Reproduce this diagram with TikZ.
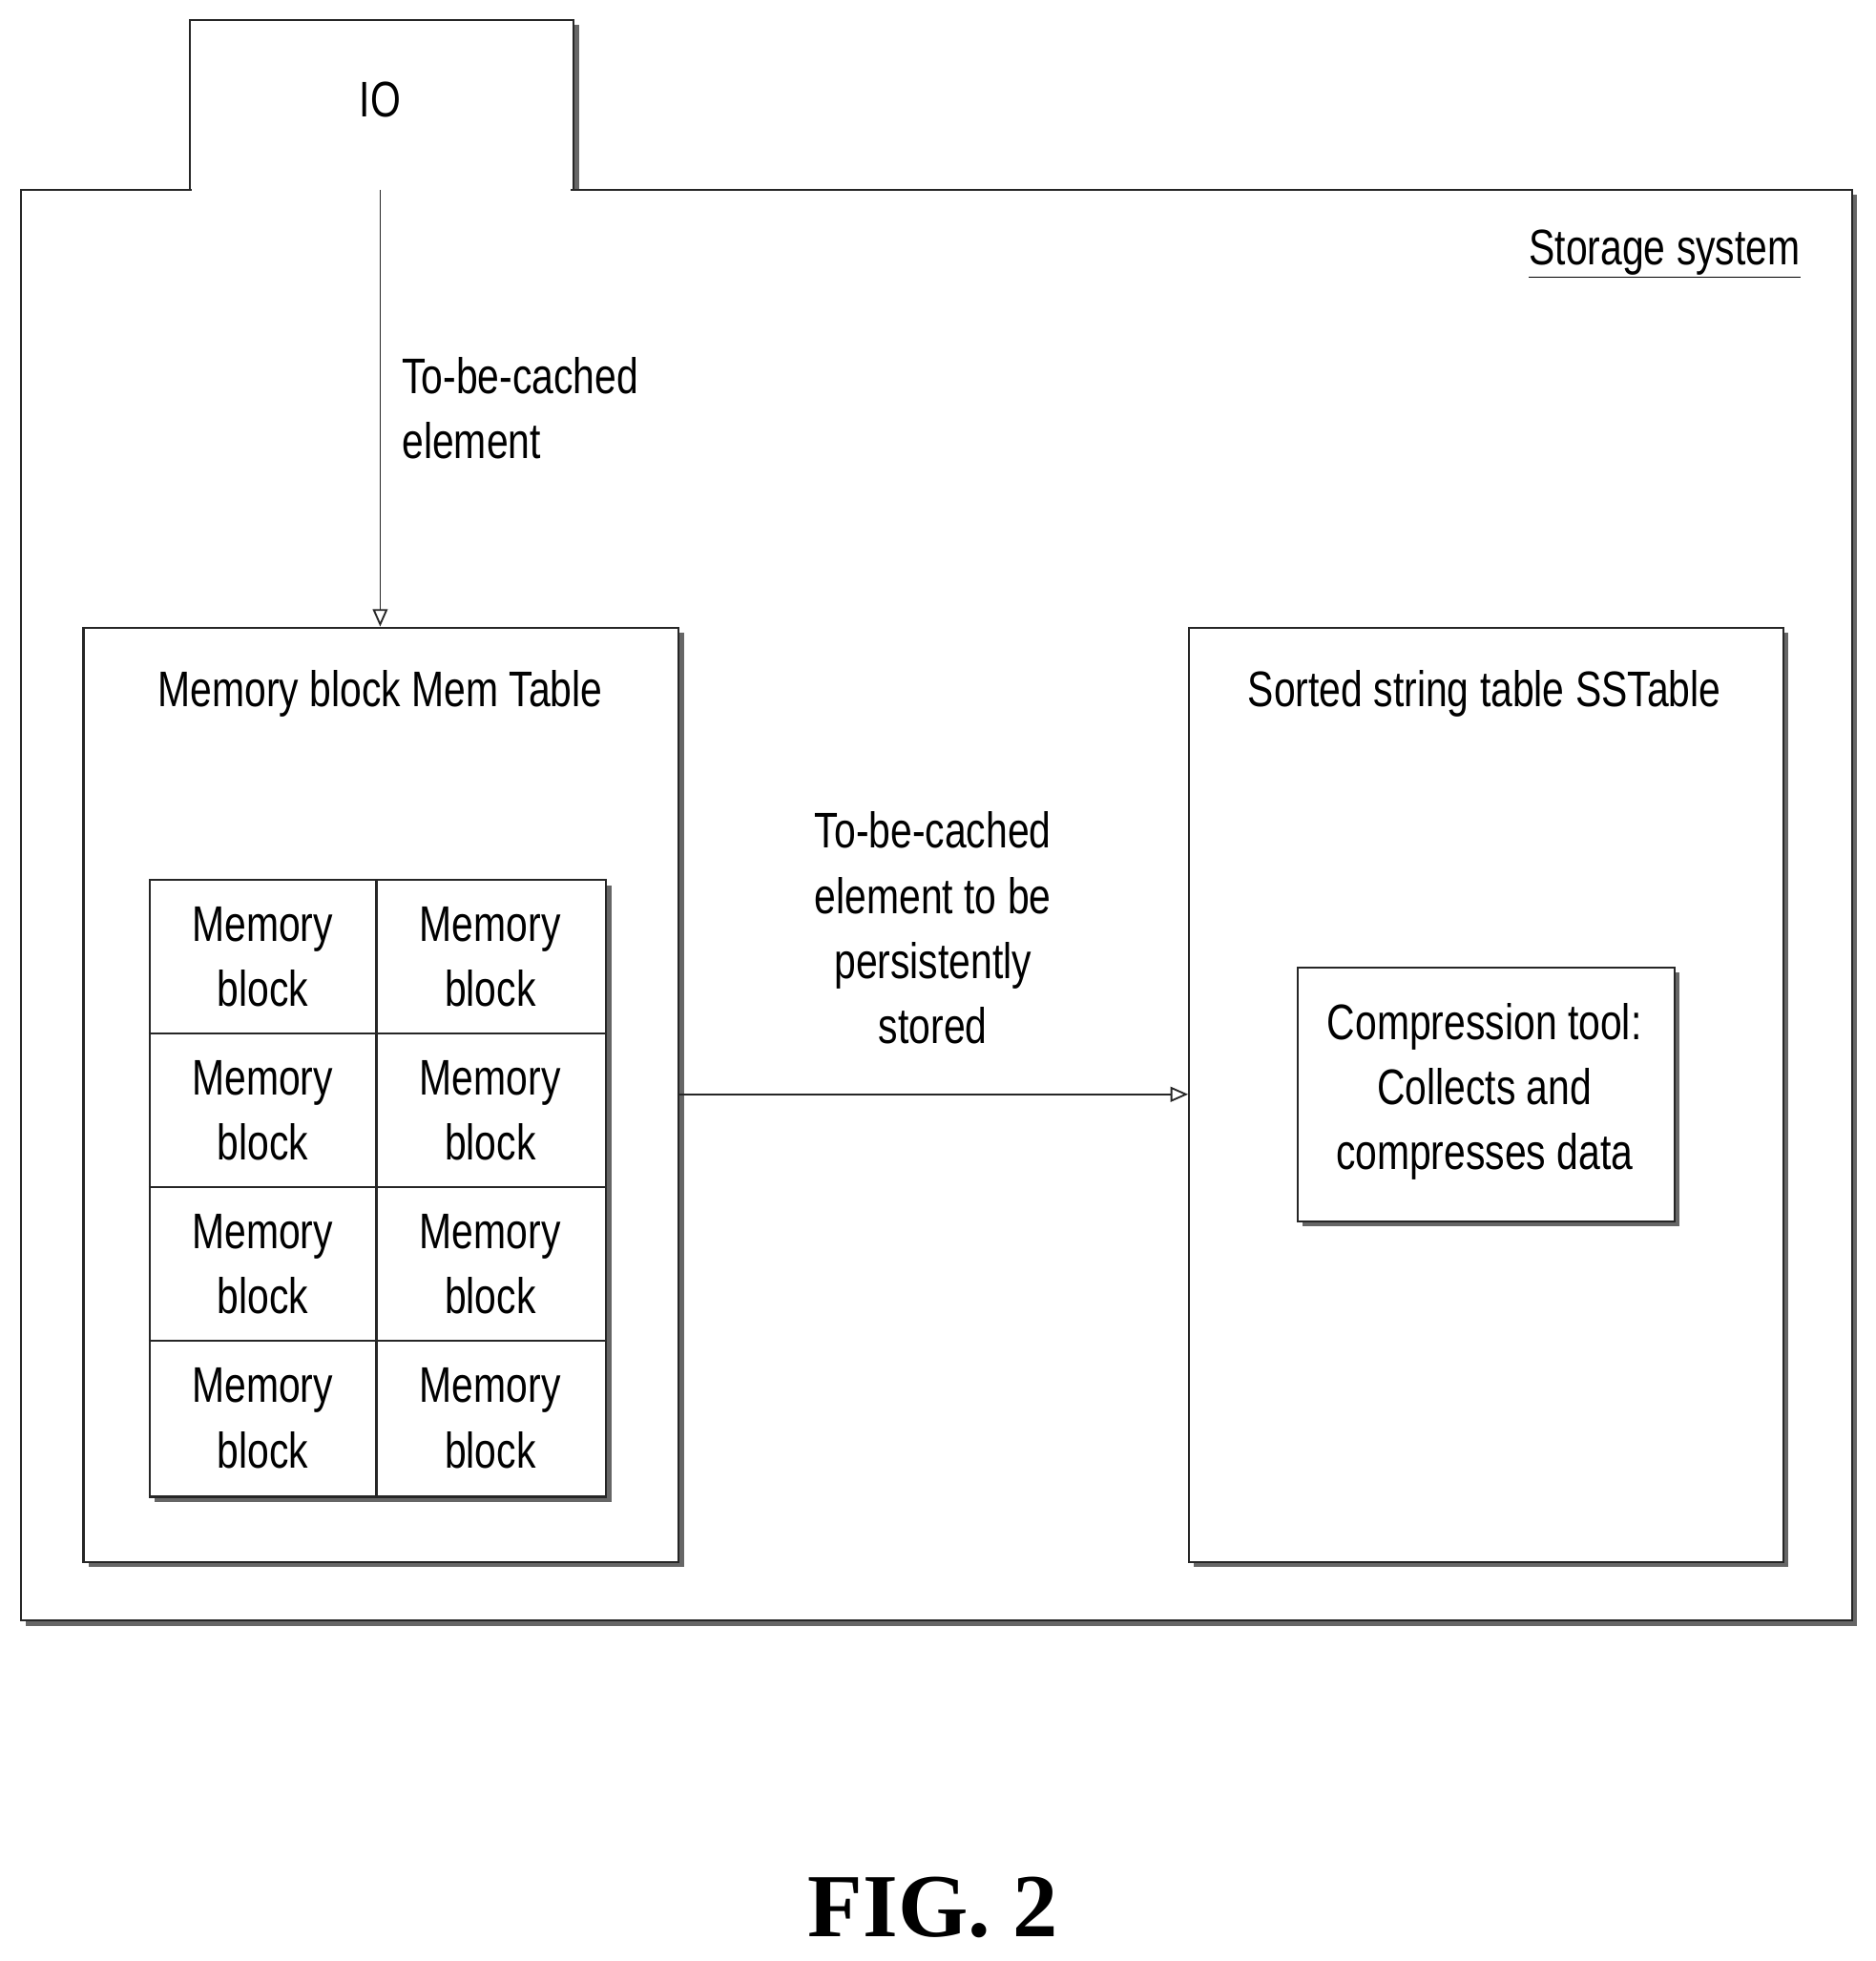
\documentclass[tikz,border=0pt]{standalone}
\usepackage{fontspec}
\setmainfont{Liberation Sans}[FakeStretch=0.78]
\newfontfamily\figfont{Liberation Serif}
\usetikzlibrary{shadows,arrows.meta}
\begin{document}
\begin{tikzpicture}[x=1pt,y=-1pt,
  box/.style={draw=black!85,line width=1.6pt,fill=white,drop shadow={shadow xshift=4pt,shadow yshift=-4pt,fill=black!60,opacity=1}},
  txt/.style={font=\fontsize{40}{52}\selectfont,align=center},
  arr/.style={draw=black!85,line width=1.4pt,-{Triangle[open,length=14pt,width=12pt]}}]
\useasboundingbox (0,0) rectangle (1500,1568);
\node[box,minimum width=307pt,minimum height=150pt,anchor=north west,inner sep=0pt] (io) at (151,15) {};
\node[box,minimum width=1464pt,minimum height=1144pt,anchor=north west,inner sep=0pt] (st) at (16,151) {};
\draw[white,line width=3pt] (153,151) -- (456,151);
\node[txt] (iot) at (304,80) {IO};
\node[txt,anchor=east] (stl) at (1443,203) {\underline{Storage system}};
\node[box,minimum width=476pt,minimum height=747pt,anchor=north west,inner sep=0pt] (mt) at (66,501) {};
\node[box,minimum width=475pt,minimum height=747pt,anchor=north west,inner sep=0pt] (ss) at (950,501) {};
\node[txt] (mtt) at (304,555) {Memory block Mem Table};
\node[txt] (sst) at (1187,555) {Sorted string table SSTable};
\node[box,minimum width=365pt,minimum height=493pt,anchor=north west,inner sep=0pt] (grid) at (119,703) {};
\foreach \r in {0,1,2,3}{
  \foreach \c/\x in {0/210,1/392}{
    \node[txt] (m\r\c) at (\x,{765+123*\r}) {Memory\\block};
  }}
\draw[black!85,line width=1.6pt] (301,703) -- (301,1196)
  (119,826) -- (484,826) (119,949) -- (484,949) (119,1072) -- (484,1072);
\node[box,minimum width=301pt,minimum height=203pt,anchor=north west,inner sep=0pt] (ct) at (1037,773) {};
\node[txt] (ctt) at (1187,873) {Compression tool:\\Collects and\\compresses data};
\coordinate (a0) at (304,152);
\draw[arr] (a0) -- (304,501);
\node[txt,align=left,anchor=north west] (l1) at (318,282) {To-be-cached\\element};
\draw[arr] (542,875) -- (950,875);
\node[txt] (l2) at (746,742) {To-be-cached\\element to be\\persistently\\stored};
\node[font=\figfont\bfseries\fontsize{72}{80}\selectfont] (fig) at (746,1525) {FIG. 2};
\end{tikzpicture}
\end{document}
